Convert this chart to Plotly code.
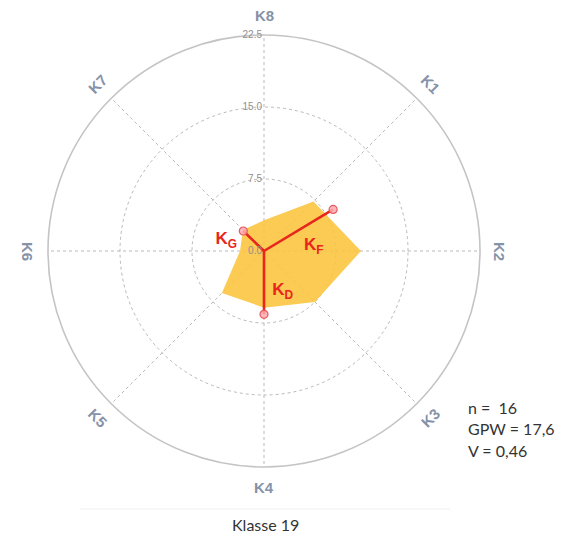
import math
import plotly.graph_objects as go

# ---- data ----
categories = ["K1", "K2", "K3", "K4", "K5", "K6", "K7", "K8"]
cat_angles = [45, 90, 135, 180, 225, 270, 315, 0]          # compass degrees (clockwise from top)
values = [7.3, 10.1, 7.5, 5.9, 6.2, 2.5, 3.1, 3.2]

vector_names = ["K<sub>G</sub>", "K<sub>F</sub>", "K<sub>D</sub>"]
vector_angles = [314, 59, 180]
vector_lengths = [3.0, 8.4, 6.6]
vector_label_r = [4.1, 5.2, 4.6]
vector_label_theta = [286, 84, 155]

radial_ticks = [0, 7.5, 15, 22.5]
r_max = 22.5
stats_lines = ["n = \u00a016", "GPW = 17,6", "V = 0,46"]
title_text = "Klasse 19"

# ---- layout geometry (pixels) ----
W, H = 569, 541
cx, cy, R = 264, 251, 216
dom_x = [(cx - R) / W, (cx + R) / W]
dom_y = [(H - cy - R) / H, (H - cy + R) / H]

fig = go.Figure()

# polygon
fig.add_trace(go.Scatterpolar(
    r=values + [values[0]], theta=cat_angles + [cat_angles[0]],
    mode="lines", fill="toself",
    fillcolor="rgba(251,196,60,0.88)",
    line=dict(color="rgba(251,196,60,0.0)", width=0),
    hoverinfo="skip", showlegend=False))

# vectors
for name, ang, ln in zip(vector_names, vector_angles, vector_lengths):
    fig.add_trace(go.Scatterpolar(
        r=[0, ln], theta=[ang, ang], mode="lines",
        line=dict(color="#e8261c", width=2.6),
        showlegend=False, hoverinfo="skip"))
    fig.add_trace(go.Scatterpolar(
        r=[ln], theta=[ang], mode="markers",
        marker=dict(size=8, color="rgba(255,170,175,0.85)",
                    line=dict(color="#e65a60", width=1.2)),
        showlegend=False, hoverinfo="skip"))

fig.add_trace(go.Scatterpolar(
    r=vector_label_r, theta=vector_label_theta, mode="text",
    text=[f"<b>{n}</b>" for n in vector_names],
    textfont=dict(family="Liberation Sans", size=17, color="#e8261c"),
    showlegend=False, hoverinfo="skip"))

fig.update_layout(
    width=W, height=H,
    margin=dict(l=0, r=0, t=0, b=0),
    paper_bgcolor="white",
    polar=dict(
        domain=dict(x=dom_x, y=dom_y),
        bgcolor="white",
        angularaxis=dict(
            rotation=90, direction="clockwise", thetaunit="degrees",
            tickmode="array", tickvals=cat_angles, ticktext=categories,
            showticklabels=False, ticks="",
            showgrid=True, gridcolor="#b9b9b9", gridwidth=1.4, griddash="3px,3px",
            showline=True, linecolor="#c4c4c4", linewidth=1.6),
        radialaxis=dict(
            range=[0, r_max], tickmode="array", tickvals=radial_ticks,
            ticktext=[f"{v:.1f}" for v in radial_ticks],
            angle=90, tickangle=90, side="counterclockwise",
            showline=False, ticks="",
            showgrid=True, gridcolor="#b9b9b9", gridwidth=1.4, griddash="3px,3px",
            tickfont=dict(family="Liberation Sans", size=10, color="#8f8f8f")),
    ),
)

# angular category labels, rotated along the circle
label_px = R + 20
for cat, ang in zip(categories, cat_angles):
    rad = math.radians(ang)
    px = cx + label_px * math.sin(rad)
    py = cy - label_px * math.cos(rad)
    rot = ang if ang <= 90 else ang - 180
    if ang > 270:
        rot = ang - 360
    fig.add_annotation(
        x=px / W, y=(H - py) / H, xref="paper", yref="paper",
        text=f"<b>{cat}</b>", showarrow=False, textangle=rot,
        xanchor="center", yanchor="middle",
        font=dict(family="Liberation Sans", size=15, color="#8592a8"))

# stats text
for i, line in enumerate(stats_lines):
    fig.add_annotation(
        x=466 / W, y=(H - (407 + 21.5 * i)) / H, xref="paper", yref="paper",
        text=line, showarrow=False, xanchor="left", yanchor="middle",
        font=dict(family="Lato", size=16, color="#333333"))

fig.add_shape(type="line", xref="paper", yref="paper",
              x0=80 / W, x1=450 / W, y0=(H - 509) / H, y1=(H - 509) / H,
              line=dict(color="#f0f0f0", width=1))

fig.add_annotation(
    x=265 / W, y=(H - 524) / H, xref="paper", yref="paper",
    text=title_text, showarrow=False, xanchor="center", yanchor="middle",
    font=dict(family="Lato", size=16, color="#333333"))

fig.write_html("out.html", config={"displayModeBar": False},
               post_script="document.body.style.margin='0';")
